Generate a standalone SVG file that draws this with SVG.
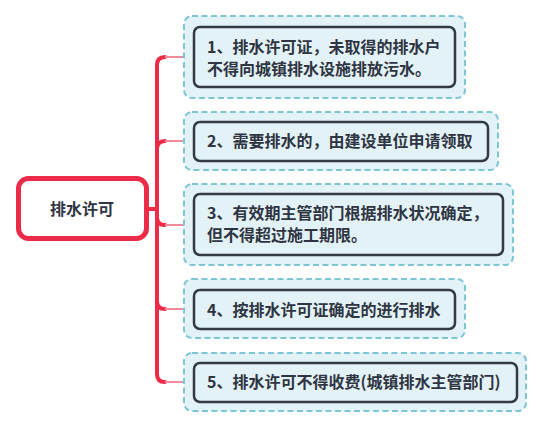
<svg xmlns="http://www.w3.org/2000/svg" width="544" height="429" viewBox="0 0 544 429">
<style>
.outer{fill:#e3f2f6;stroke:#7cc6d6;stroke-width:2;stroke-dasharray:6 3.5}
.inner{fill:#e3f2f6;stroke:#333a46;stroke-width:2.5}
.t{font-family:"Noto Sans CJK SC","Noto Sans",sans-serif;font-size:16px;font-weight:bold;fill:#2f3542}
.trunk{fill:none;stroke:#ec2b48;stroke-width:4;stroke-linecap:round}
.br{fill:none;stroke:#f28b9c;stroke-width:2}
</style>
<rect width="544" height="429" fill="#ffffff"/>
<g id="connectors">
<path class="trunk" d="M148 209 H157"/>
<path class="trunk" d="M157 209 V65 Q157 57 165 57"/>
<path class="trunk" d="M157 209 V149 Q157 141 165 141"/>
<path class="trunk" d="M157 209 V217 Q157 225 165 225"/>
<path class="trunk" d="M157 209 V301 Q157 309 165 309"/>
<path class="trunk" d="M157 209 V374 Q157 382 165 382"/>
<path class="br" d="M165 57 H194"/>
<path class="br" d="M165 141 H194"/>
<path class="br" d="M165 225 H194"/>
<path class="br" d="M165 309 H194"/>
<path class="br" d="M165 382 H194"/>
</g>
<g id="root">
<rect x="18.5" y="178.5" width="128" height="60" rx="10" fill="#ffffff" stroke="#ec2b48" stroke-width="5"/>
<text class="t" x="82" y="214.5" text-anchor="middle">排水许可</text>
</g>
<g id="n1">
<rect class="outer" x="184" y="16" width="281" height="82" rx="8"/>
<rect class="inner" x="194" y="27" width="261" height="60" rx="6"/>
<text class="t" x="207" y="52.5">1、排水许可证，未取得的排水户</text>
<text class="t" x="207" y="74.5">不得向城镇排水设施排放污水。</text>
</g>
<g id="n2">
<rect class="outer" x="184" y="112" width="314" height="58" rx="8"/>
<rect class="inner" x="194" y="122" width="294" height="39" rx="6"/>
<text class="t" x="207" y="147">2、需要排水的，由建设单位申请领取</text>
</g>
<g id="n3">
<rect class="outer" x="184" y="184" width="329" height="81" rx="8"/>
<rect class="inner" x="194" y="194" width="309" height="61" rx="6"/>
<text class="t" x="207" y="219">3、有效期主管部门根据排水状况确定，</text>
<text class="t" x="207" y="241">但不得超过施工期限。</text>
</g>
<g id="n4">
<rect class="outer" x="184" y="279" width="281" height="59" rx="8"/>
<rect class="inner" x="194" y="290" width="261" height="39" rx="6"/>
<text class="t" x="207" y="315.5">4、按排水许可证确定的进行排水</text>
</g>
<g id="n5">
<rect class="outer" x="184" y="353" width="342" height="58" rx="8"/>
<rect class="inner" x="194" y="363" width="323" height="39" rx="6"/>
<text class="t" x="207" y="388">5、排水许可不得收费(城镇排水主管部门)</text>
</g>
</svg>
